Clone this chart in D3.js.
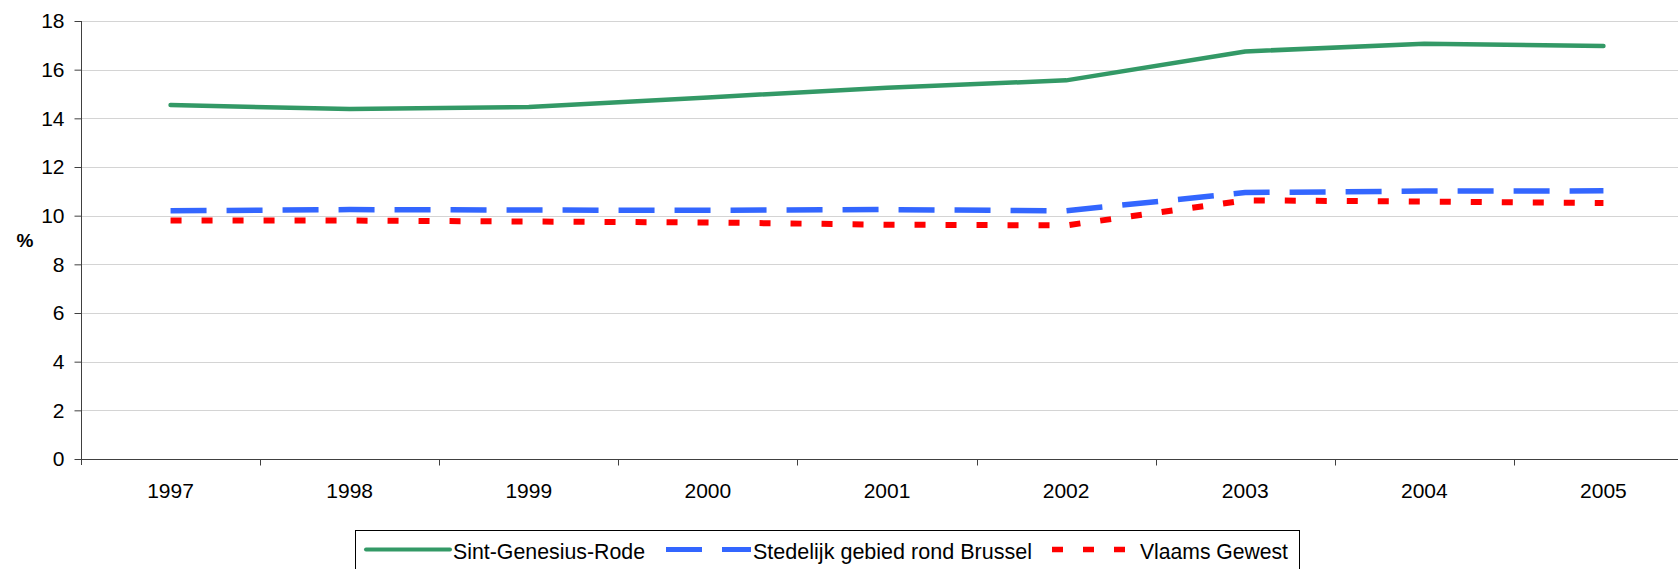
<!DOCTYPE html>
<html>
<head>
<meta charset="utf-8">
<script src="https://cdn.jsdelivr.net/npm/d3@7/dist/d3.min.js"></script>
<style>
html,body{margin:0;padding:0;background:#fff;overflow:hidden;}
svg{display:block;font-family:Arial,"Liberation Sans",sans-serif;}
</style>
</head>
<body>
<svg id="chart" width="1678" height="569"></svg>
<script>
const years = ["1997","1998","1999","2000","2001","2002","2003","2004","2005"];
const sintGenesiusRode = [14.55, 14.38, 14.47, 14.86, 15.26, 15.56, 16.75, 17.06, 16.97];
const stedelijkGebied = [10.20, 10.25, 10.23, 10.22, 10.25, 10.20, 10.95, 11.01, 11.02];
const vlaamsGewest = [9.80, 9.80, 9.76, 9.72, 9.63, 9.60, 10.63, 10.58, 10.52];
const yTicks = [0, 2, 4, 6, 8, 10, 12, 14, 16, 18];
const seriesNames = ["Sint-Genesius-Rode", "Stedelijk gebied rond Brussel", "Vlaams Gewest"];

(function () {
const series = [
  {name: seriesNames[0], values: sintGenesiusRode, color: "#339966", width: 4.5, dash: null, cap: "round"},
  {name: seriesNames[1], values: stedelijkGebied, color: "#3366FF", width: 5.5, dash: "36,20", cap: "butt"},
  {name: seriesNames[2], values: vlaamsGewest, color: "#FF0000", width: 6, dash: "11,20", cap: "butt"}
];

const svg = d3.select("#chart");
const pL = 81, pR = 1693, pT = 21, pB = 459;

const x = d3.scaleBand().domain(years).range([pL, pR]).paddingInner(0).paddingOuter(0);
const y = d3.scaleLinear().domain([0, 18]).range([pB, pT]);
const cx = d => x(d) + x.bandwidth() / 2;

// gridlines
svg.append("g").selectAll("line").data(yTicks.filter(t => t > 0)).join("line")
  .attr("x1", pL).attr("x2", 1678)
  .attr("y1", d => Math.round(y(d)) + 0.5).attr("y2", d => Math.round(y(d)) + 0.5)
  .attr("stroke", "#d4d4d4").attr("stroke-width", 1.2);

// y axis
const yAxis = svg.append("g").attr("transform", `translate(${pL + 0.5},0)`)
  .call(d3.axisLeft(y).tickValues(yTicks).tickSize(7).tickPadding(10).tickSizeOuter(0));
yAxis.select(".domain").attr("stroke", "#404040").attr("d", `M0,${pT}V${pB + 6}`);
yAxis.selectAll(".tick line").attr("stroke", "#404040");
yAxis.selectAll(".tick text").attr("font-size", 21).attr("fill", "#000")
  .attr("font-family", "Arial, 'Liberation Sans', sans-serif");

// x axis
const xAxisG = svg.append("g").attr("transform", `translate(0,${pB + 0.5})`);
xAxisG.append("line").attr("x1", pL).attr("x2", 1678).attr("stroke", "#404040").attr("stroke-width", 1.2);
xAxisG.selectAll("line.tk").data(years.slice(1).concat(["end"])).join("line").attr("class", "tk")
  .attr("x1", d => d === "end" ? pR : Math.round(x(d)) + 0.5)
  .attr("x2", d => d === "end" ? pR : Math.round(x(d)) + 0.5)
  .attr("y1", 0).attr("y2", 6).attr("stroke", "#404040");
xAxisG.selectAll("text").data(years).join("text")
  .attr("x", d => cx(d)).attr("y", 38.5).attr("text-anchor", "middle")
  .attr("font-size", 21).attr("fill", "#000").text(d => d);

// y label
svg.append("text").attr("x", 25).attr("y", 247).attr("text-anchor", "middle")
  .attr("font-size", 19).attr("font-weight", "bold").text("%");

// lines
const line = d3.line().x((d, i) => cx(years[i])).y(d => y(d));
series.forEach(s => {
  svg.append("path").datum(s.values)
    .attr("d", line).attr("fill", "none")
    .attr("stroke", s.color).attr("stroke-width", s.width)
    .attr("stroke-linecap", s.cap).attr("stroke-linejoin", "round")
    .attr("stroke-dasharray", s.dash);
});

// legend
const lg = svg.append("g");
lg.append("rect").attr("x", 355.5).attr("y", 530.5).attr("width", 944).attr("height", 60)
  .attr("fill", "#fff").attr("stroke", "#000").attr("stroke-width", 1);
const legendItems = [
  {x1: 366, x2: 450, tx: 453, tw: 192},
  {x1: 666, x2: 751, tx: 753, tw: 279},
  {x1: 1052, x2: 1125, tx: 1140, tw: 148}
];
series.forEach((s, i) => {
  const it = legendItems[i];
  lg.append("line").attr("x1", it.x1).attr("x2", it.x2).attr("y1", 549.5).attr("y2", 549.5)
    .attr("stroke", s.color).attr("stroke-width", s.width - 0.5)
    .attr("stroke-linecap", s.cap).attr("stroke-dasharray", s.dash);
  lg.append("text").attr("x", it.tx).attr("y", 559).attr("font-size", 21.5)
    .attr("textLength", it.tw).attr("lengthAdjust", "spacingAndGlyphs")
    .attr("fill", "#000").text(s.name);
});
})();
</script>
</body>
</html>
